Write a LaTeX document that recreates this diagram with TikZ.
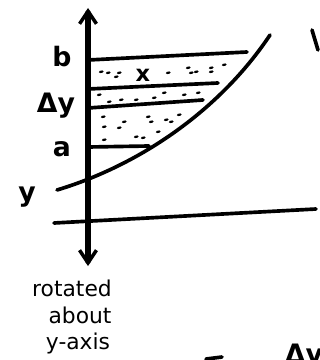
\documentclass[tikz,border=0pt]{standalone}
\usepackage{fontspec}
\newfontfamily\hand{DejaVu Sans}
\usetikzlibrary{arrows.meta}
\begin{document}
\begin{tikzpicture}[x=0.025cm,y=-0.025cm,
  ink/.style={line width=2.6pt,line cap=round,black},
  axisline/.style={line width=4pt,line cap=round,black},
  lbl/.style={font=\hand\bfseries\fontsize{19}{21}\selectfont,inner sep=0pt},
  txt/.style={font=\hand\fontsize{15.5}{17}\selectfont,inner sep=0pt,anchor=base},
  speck/.style={line width=1.6pt,line cap=round}]
\useasboundingbox (0,0) rectangle (320,360);
% vertical axis
\coordinate (ytop) at (88,8);
\coordinate (ybot) at (88,266);
\draw[axisline,{Straight Barb[length=9pt,width=12pt,line width=2.5pt]}-{Straight Barb[length=9pt,width=12pt,line width=2.5pt]}] (ybot) -- (ytop);
% x axis
\coordinate (xl) at (54,223);
\coordinate (xr) at (316,209);
\draw[ink] (xl) -- (xr);
% curve
\coordinate (c0) at (57,190);
\coordinate (c1) at (270,35);
\draw[ink] (c0) .. controls (140,165) and (220,110) .. (c1);
% horizontal strips
\coordinate (b0) at (88,60);  \coordinate (b1) at (247,52);
\coordinate (l20) at (88,89); \coordinate (l21) at (218,83);
\coordinate (l30) at (88,108); \coordinate (l31) at (203,100);
\coordinate (a0) at (88,147); \coordinate (a1) at (149,146);
\draw[ink] (b0) -- (b1);
\draw[ink] (l20) -- (l21);
\draw[ink] (l30) -- (l31);
\draw[ink] (a0) -- (a1);
% labels
\node[lbl] (lb) at (62,57) {b};
\node[lbl] (ldy) at (56,106) {Δy};
\node[lbl] (la) at (62,149) {a};
\node[lbl] (ly) at (27,197) {y};
\node[lbl,font=\hand\bfseries\fontsize{16}{18}\selectfont] (lx) at (143,75) {x};
\node[txt] (rot1) at (72,296) {rotated};
\node[txt] (rot2) at (80,323) {about};
\node[txt] (rot3) at (78,349) {y-axis};
% specks
\foreach \p in {(100,72),(107,73),(115,77),(118,73),(167,73),(187,68),(190,73),(195,72),(210,68),(210,72),(223,65),
  (98,95),(108,102),(120,100),(135,100),(153,98),(163,93),(183,95),(197,93),(200,100),
  (102,117),(103,127),(118,128),(123,122),(147,117),(150,122),(165,120),(170,122),(135,137),(142,138),(157,132),(103,140),(178,115)}
  \draw[speck] \p -- ++(2.5,-0.5);
% cut-off fragments at the edges
\coordinate (v0) at (312,30); \coordinate (v1) at (318,50);
\draw[ink] (v0) -- (v1);
\node[lbl,anchor=north] (cut) at (304,344) {Δv};
\coordinate (s0) at (206,359); \coordinate (s1) at (222,357);
\draw[ink] (s0) -- (s1);
\end{tikzpicture}
\end{document}
